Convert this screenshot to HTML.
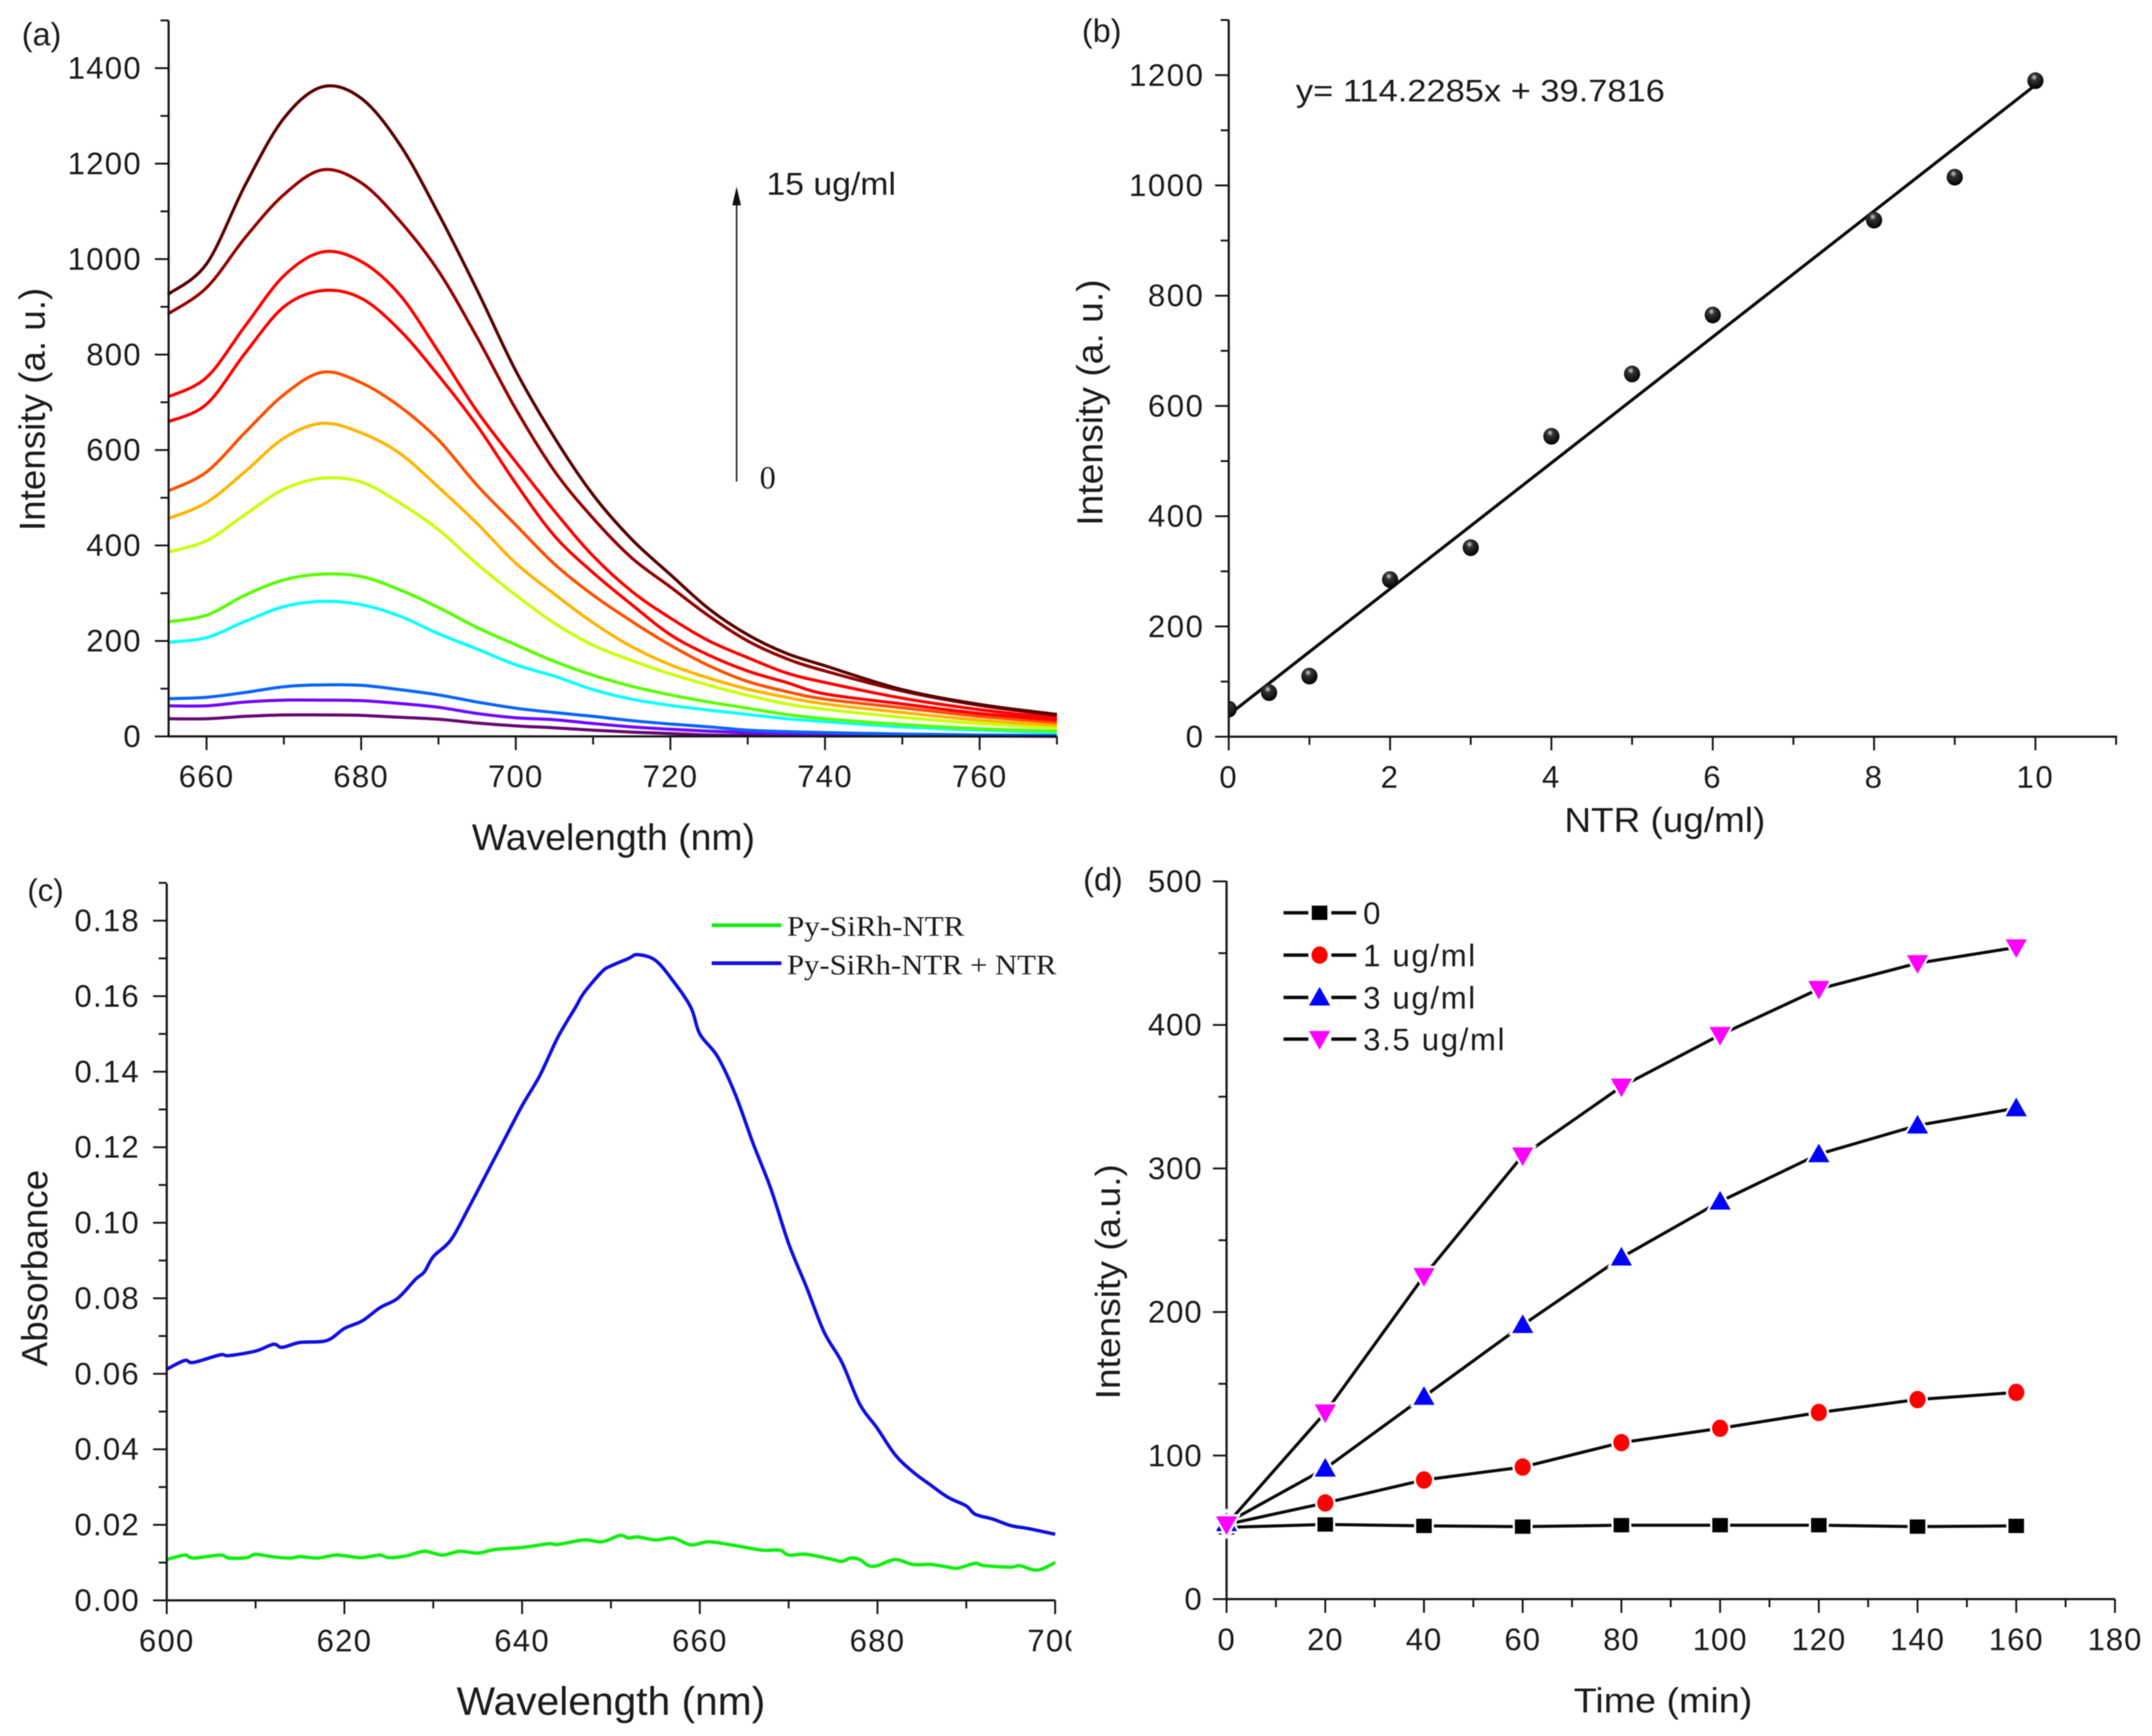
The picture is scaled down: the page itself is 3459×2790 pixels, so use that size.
<!DOCTYPE html>
<html lang="en">
<head>
<meta charset="utf-8">
<title>Py-SiRh-NTR fluorescence and absorbance charts</title>
<style>
html,body{margin:0;padding:0;background:#fff;}
svg{display:block;filter:blur(0.9px);}
text{font-family:"Liberation Sans",sans-serif;fill:#1c1c1c;}
.serif{font-family:"Liberation Serif",serif;}
</style>
</head>
<body>
<svg id="figure" xmlns="http://www.w3.org/2000/svg" width="3459" height="2790" viewBox="0 0 3459 2790">
  <defs>
    <radialGradient id="ball" cx="0.42" cy="0.3" r="0.7">
      <stop offset="0" stop-color="#d8d8d8"/>
      <stop offset="0.28" stop-color="#333"/>
      <stop offset="1" stop-color="#000"/>
    </radialGradient>
    <clipPath id="clip-b"><rect x="1975" y="20" width="1440" height="1170"/></clipPath>
    <clipPath id="clip-c-ticks"><rect x="0" y="1395" width="1722" height="1395"/></clipPath>
  </defs>
  <rect width="3459" height="2790" fill="#fff"/>

  <g id="panel-a">
    <text x="35" y="73" font-size="52">(a)</text>
    <text transform="translate(72,658) rotate(-90)" text-anchor="middle" font-size="58" textLength="391" lengthAdjust="spacingAndGlyphs">Intensity (a. u.)</text>
    <text x="986" y="1366" text-anchor="middle" font-size="59" textLength="455" lengthAdjust="spacingAndGlyphs">Wavelength (nm)</text>
    <line x1="1184" y1="774" x2="1184" y2="320" stroke="#222" stroke-width="2.5"/>
    <polygon points="1184,300 1177,330 1191,330" fill="#111"/>
    <text x="1232" y="313" font-size="51" textLength="208" lengthAdjust="spacingAndGlyphs">15 ug/ml</text>
    <text class="serif" x="1221" y="785" font-size="52">0</text>
  </g>

  <g id="panel-b">
    <text x="1739" y="67" font-size="52">(b)</text>
    <text transform="translate(1772,647) rotate(-90)" text-anchor="middle" font-size="58" textLength="396" lengthAdjust="spacingAndGlyphs">Intensity (a. u.)</text>
    <text x="2676" y="1337" text-anchor="middle" font-size="56" textLength="323" lengthAdjust="spacingAndGlyphs">NTR (ug/ml)</text>
    <text x="2083" y="163" font-size="50" textLength="593" lengthAdjust="spacingAndGlyphs">y= 114.2285x + 39.7816</text>
  </g>

  <g id="panel-c">
    <text x="44" y="1448" font-size="50">(c)</text>
    <text transform="translate(76,2038) rotate(-90)" text-anchor="middle" font-size="58" textLength="316" lengthAdjust="spacingAndGlyphs">Absorbance</text>
    <text x="982" y="2756" text-anchor="middle" font-size="64" textLength="496" lengthAdjust="spacingAndGlyphs">Wavelength (nm)</text>
    <line x1="1144" y1="1487" x2="1256" y2="1487" stroke="#12ee12" stroke-width="6"/>
    <line x1="1144" y1="1548" x2="1256" y2="1548" stroke="#1010e0" stroke-width="6"/>
    <text class="serif" x="1265" y="1504" font-size="46" textLength="285" lengthAdjust="spacingAndGlyphs">Py-SiRh-NTR</text>
    <text class="serif" x="1265" y="1566" font-size="46" textLength="433" lengthAdjust="spacingAndGlyphs">Py-SiRh-NTR + NTR</text>
  </g>

  <g id="panel-d">
    <text x="1741" y="1431" font-size="52">(d)</text>
    <text transform="translate(1800,2060) rotate(-90)" text-anchor="middle" font-size="56" textLength="378" lengthAdjust="spacingAndGlyphs">Intensity (a.u.)</text>
    <text x="2673" y="2752" text-anchor="middle" font-size="56" textLength="287" lengthAdjust="spacingAndGlyphs">Time (min)</text>
  </g>
</svg>

<script>
// ---------- Panel (a) data ----------
const aWavelengths = [655,660,665,670,675,680,685,690,695,700,705,710,715,720,725,730,735,740,750,760,770];
const aConc01 = [37,37,42,45,45,44,40,36,28,22,18,13,9,6,3,2,2,1,1,1,0];
const aConc02 = [64,64,72,76,76,75,69,61,48,39,35,27,20,15,11,8,6,4,2,1,1];
const aConc03 = [79,82,92,104,108,107,98,87,72,59,50,42,33,26,20,13,10,8,5,3,2];
const aConc04 = [197,207,241,272,283,276,252,215,183,150,126,98,78,65,55,46,37,31,20,13,8];
const aConc05 = [240,254,296,328,340,335,307,270,228,192,157,128,105,87,72,59,46,37,25,16,11];
const aConc06 = [386,410,465,518,541,533,489,433,361,296,237,191,159,131,107,86,68,57,40,27,18];
const aConc07 = [456,490,555,625,656,636,593,522,446,363,298,238,188,150,122,99,82,68,50,34,23];
const aConc08 = [514,554,637,716,763,741,691,621,526,443,361,296,241,191,148,115,94,78,60,42,29];
const aConc09 = [659,696,803,900,934,918,851,756,651,530,420,343,276,213,170,137,113,89,68,48,34];
const aConc10 = [711,752,860,965,1015,995,925,806,681,575,472,378,304,248,200,165,133,113,80,56,38];
const aConc11 = [885,940,1045,1135,1187,1160,1080,975,836,686,556,457,374,313,252,200,163,137,95,65,44];
const aConc12 = [926,990,1155,1295,1361,1337,1240,1095,935,766,626,506,413,339,267,213,174,148,98,67,46];
const aSeries = [aConc01,aConc02,aConc03,aConc04,aConc05,aConc06,aConc07,aConc08,aConc09,aConc10,aConc11,aConc12];
const aColors = ["#650a70","#7008ff","#0a64ff","#0affff","#58ff00","#c8ff0a","#ffb400","#ff5000","#ff0000","#ff0000","#960000","#5a0000"];
const aXTicks = [660,680,700,720,740,760];
const aXMinor = [670,690,710,730,750,770];
const aYTicks = [0,200,400,600,800,1000,1200,1400];
const aYMinor = [100,300,500,700,900,1100,1300,1500];

// ---------- Panel (b) data ----------
const bConcentration = [0,0.5,1,2,3,4,5,6,8,9,10];
const bIntensity = [50,80,110,285,343,545,658,765,937,1015,1190];
const bFitX = [0,10];
const bFitY = [39.78,1182.07];
const bXTicks = [0,2,4,6,8,10];
const bXMinor = [1,3,5,7,9,11];
const bYTicks = [0,200,400,600,800,1000,1200];
const bYMinor = [100,300,500,700,900,1100,1300];

// ---------- Panel (c) data ----------
const cBlueWl = [600,602,603,606,607,610,612,613,615,618,620,622,624,626,628,629,630,632,634,636,638,640,642,644,646,647,649,650,652,653,655,657,659,660,662,664,666,668,670,672,674,676,678,680,682,684,686,688,690,691,693,695,697,700];
const cBlueAbs = [.0612,.0635,.063,.065,.0648,.066,.0678,.067,.0683,.0688,.072,.074,.0775,.080,.085,.087,.091,.0955,.104,.113,.122,.131,.139,.149,.157,.161,.1665,.168,.170,.171,.1695,.164,.157,.150,.144,.134,.121,.109,.0945,.083,.071,.063,.052,.0455,.0385,.034,.0305,.0272,.025,.0228,.0215,.0198,.019,.0175];
const cGreenWl = [600,602,603,606,607,609,610,612,614,615,617,619,621,622,624,625,627,629,631,633,635,637,640,643,644,647,649,651,652,653,655,657,659,661,664,667,669,670,672,675,676,677,678,679,680,682,684,686,688,689,691,692,695,696,698,700];
const cGreenAbs = [.0108,.012,.0112,.012,.0112,.0113,.0122,.0115,.0112,.0116,.0112,.012,.0115,.0113,.012,.0113,.0118,.013,.012,.013,.0125,.0135,.014,.015,.0148,.016,.0155,.0172,.0165,.0168,.016,.0165,.0147,.0155,.0145,.0133,.0133,.012,.0122,.0108,.0103,.0112,.0108,.0092,.0092,.0108,.0095,.0095,.0088,.0085,.0098,.0092,.0088,.0092,.008,.01];
const cXTicks = [600,620,640,660,680,700];
const cXMinor = [610,630,650,670,690];
const cYTicks = [0,0.02,0.04,0.06,0.08,0.10,0.12,0.14,0.16,0.18];
const cYMinor = [0.01,0.03,0.05,0.07,0.09,0.11,0.13,0.15,0.17,0.19];

// ---------- Panel (d) data ----------
const dTimes = [0,20,40,60,80,100,120,140,160];
const dConc0 = [50,52,51,50.5,51.5,51.5,51.5,50.5,51];
const dConc1 = [52,67,83,92,109,119,130,139,144];
const dConc3 = [53,91,141,191,238,277,310,330,342];
const dConc35 = [52,130,225,309,357,393,425,443,454];
const dLabels = ["0","1 ug/ml","3 ug/ml","3.5 ug/ml"];
const dXTicks = [0,20,40,60,80,100,120,140,160,180];
const dXMinor = [10,30,50,70,90,110,130,150,170];
const dYTicks = [0,100,200,300,400,500];
const dYMinor = [50,150,250,350,450];

// ---------- Helpers ----------
const NS = "http://www.w3.org/2000/svg";
function mk(tag, attrs, parent) {
  const el = document.createElementNS(NS, tag);
  for (const k in attrs) el.setAttribute(k, attrs[k]);
  parent.appendChild(el);
  return el;
}
function linePath(pts) {
  return pts.map((p, i) => (i ? "L" : "M") + p[0].toFixed(1) + " " + p[1].toFixed(1)).join(" ");
}
function smoothPath(pts) {
  let d = "M" + pts[0][0].toFixed(1) + " " + pts[0][1].toFixed(1);
  for (let i = 0; i < pts.length - 1; i++) {
    const p0 = pts[Math.max(i - 1, 0)], p1 = pts[i], p2 = pts[i + 1], p3 = pts[Math.min(i + 2, pts.length - 1)];
    const c1x = p1[0] + (p2[0] - p0[0]) / 6, c1y = p1[1] + (p2[1] - p0[1]) / 6;
    const c2x = p2[0] - (p3[0] - p1[0]) / 6, c2y = p2[1] - (p3[1] - p1[1]) / 6;
    d += " C" + c1x.toFixed(1) + " " + c1y.toFixed(1) + " " + c2x.toFixed(1) + " " + c2y.toFixed(1) + " " + p2[0].toFixed(1) + " " + p2[1].toFixed(1);
  }
  return d;
}
function drawAxes(parent, cfg) {
  const ink = "#151515";
  const yAxis = mk("line", {x1: cfg.left, y1: cfg.bottom + 1.5, x2: cfg.left, y2: cfg.top, stroke: ink, "stroke-width": 3.5}, parent);
  
  
  const xAxis = mk("line", {x1: cfg.left, y1: cfg.bottom, x2: cfg.right, y2: cfg.bottom, stroke: ink, "stroke-width": 3.5}, parent);
  
  
  cfg.xTicks.forEach(v => {
    const x = cfg.sx(v);
    const t = mk("line", {x1: x, y1: cfg.bottom, x2: x, y2: cfg.bottom + 22, stroke: ink, "stroke-width": 3}, parent);
    
    
    const l = mk("text", {x: x, y: cfg.xLabelY, "text-anchor": "middle", "font-size": cfg.fs, "letter-spacing": cfg.ls}, cfg.xClip || parent);
    l.textContent = v;
    
    
  });
  cfg.xMinor.forEach(v => {
    const x = cfg.sx(v);
    const t = mk("line", {x1: x, y1: cfg.bottom, x2: x, y2: cfg.bottom + 13, stroke: ink, "stroke-width": 3}, parent);
    
    
  });
  cfg.yTicks.forEach(v => {
    const y = cfg.sy(v);
    const t = mk("line", {x1: cfg.left - 22, y1: y, x2: cfg.left, y2: y, stroke: ink, "stroke-width": 3}, parent);
    
    
    const l = mk("text", {x: cfg.yLabelX, y: y + 17, "text-anchor": "end", "font-size": cfg.fs, "letter-spacing": cfg.ls}, parent);
    l.textContent = cfg.yFmt ? cfg.yFmt(v) : v;
    
    
  });
  cfg.yMinor.forEach(v => {
    const y = cfg.sy(v);
    const t = mk("line", {x1: cfg.left - 13, y1: y, x2: cfg.left, y2: y, stroke: ink, "stroke-width": 3}, parent);
    
    
  });
}
function drawMarker(parent, kind, x, y) {
  const halo = {stroke: "#fff", "stroke-width": 7, "paint-order": "stroke"};
  let el;
  if (kind === 0) {
    el = mk("rect", Object.assign({x: x - 12.5, y: y - 11.5, width: 25, height: 23, fill: "#000"}, halo), parent);
  } else if (kind === 1) {
    el = mk("ellipse", Object.assign({cx: x, cy: y, rx: 13, ry: 14, fill: "#ff0000"}, halo), parent);
  } else if (kind === 2) {
    el = mk("polygon", Object.assign({points: x + "," + (y - 17) + " " + (x - 17) + "," + (y + 13) + " " + (x + 17) + "," + (y + 13), fill: "#0000ff"}, halo), parent);
  } else {
    el = mk("polygon", Object.assign({points: x + "," + (y + 17) + " " + (x - 17) + "," + (y - 13) + " " + (x + 17) + "," + (y - 13), fill: "#ff00ff"}, halo), parent);
  }
  return el;
}

// ---------- Panel (a) ----------
const aX = v => 332 + (v - 660) * 12.426;
const aY = v => 1183.5 - v * 0.7671;
(function () {
  const g = document.getElementById("panel-a");
  aSeries.forEach((vals, i) => {
    const pts = vals.map((v, j) => [aX(aWavelengths[j]), aY(v)]);
    const p = mk("path", {d: smoothPath(pts), fill: "none", stroke: aColors[i], "stroke-width": 5}, g);
    
    
  });
  drawAxes(g, {left: 271, right: 1699, top: 33, bottom: 1183.5, sx: aX, sy: aY, xTicks: aXTicks, xMinor: aXMinor, yTicks: aYTicks, yMinor: aYMinor, xLabelY: 1265, yLabelX: 228, fs: 50, ls: 2});
})();

// ---------- Panel (b) ----------
const bX = v => 1975 + v * 129.66;
const bY = v => 1184 - v * 0.886;
(function () {
  const g = document.getElementById("panel-b");
  const fit = mk("path", {d: linePath(bFitX.map((x, i) => [bX(x), bY(bFitY[i])])), fill: "none", stroke: "#0a0a0a", "stroke-width": 5}, g);
  
  
  const pts = mk("g", {"clip-path": "url(#clip-b)"}, g);
  
  
  bConcentration.forEach((c, i) => {
    const dot = mk("ellipse", {cx: bX(c), cy: bY(bIntensity[i]), rx: 13, ry: 13.5, fill: "url(#ball)"}, pts);
    
    
  });
  drawAxes(g, {left: 1975, right: 3403, top: 32, bottom: 1184, sx: bX, sy: bY, xTicks: bXTicks, xMinor: bXMinor, yTicks: bYTicks, yMinor: bYMinor, xLabelY: 1266, yLabelX: 1936, fs: 50, ls: 2.5});
})();

// ---------- Panel (c) ----------
const cX = v => 268 + (v - 600) * 14.28;
const cY = v => 2572 - v * 6069;
(function () {
  const g = document.getElementById("panel-c");
  const green = mk("path", {d: smoothPath(cGreenWl.map((x, i) => [cX(x), cY(cGreenAbs[i])])), fill: "none", stroke: "#12ee12", "stroke-width": 5.5, "stroke-linejoin": "round"}, g);
  
  
  const blue = mk("path", {d: smoothPath(cBlueWl.map((x, i) => [cX(x), cY(cBlueAbs[i])])), fill: "none", stroke: "#1010e0", "stroke-width": 5.5, "stroke-linejoin": "round"}, g);
  
  
  const clip = mk("g", {"clip-path": "url(#clip-c-ticks)"}, g);
  
  
  drawAxes(g, {left: 268, right: 1696, top: 1420, bottom: 2572, sx: cX, sy: cY, xTicks: cXTicks, xMinor: cXMinor, yTicks: cYTicks, yMinor: cYMinor, xLabelY: 2654, yLabelX: 225, fs: 50, ls: 2, xClip: clip, yFmt: v => v.toFixed(2)});
})();

// ---------- Panel (d) ----------
const dX = v => 1971.5 + v * 7.933;
const dY = v => 2570 - v * 2.307;
(function () {
  const g = document.getElementById("panel-d");
  const series = [dConc0, dConc1, dConc3, dConc35];
  series.forEach((vals, k) => {
    const p = mk("path", {d: linePath(vals.map((v, i) => [dX(dTimes[i]), dY(v)])), fill: "none", stroke: "#0a0a0a", "stroke-width": 5}, g);
    
    
  });
  drawAxes(g, {left: 1971.5, right: 3399.5, top: 1416, bottom: 2570, sx: dX, sy: dY, xTicks: dXTicks, xMinor: dXMinor, yTicks: dYTicks, yMinor: dYMinor, xLabelY: 2652, yLabelX: 1933, fs: 50, ls: 1.5});
  series.forEach((vals, k) => {
    vals.forEach((v, i) => {
      const m = drawMarker(g, k, dX(dTimes[i]), dY(v));
      
      
    });
  });
  const legendYs = [1467, 1535, 1603, 1670];
  dLabels.forEach((label, k) => {
    const l1 = mk("line", {x1: 2063, y1: legendYs[k], x2: 2103, y2: legendYs[k], stroke: "#0a0a0a", "stroke-width": 5.5}, g);
    
    
    const l2 = mk("line", {x1: 2140, y1: legendYs[k], x2: 2180, y2: legendYs[k], stroke: "#0a0a0a", "stroke-width": 5.5}, g);
    
    
    const m = drawMarker(g, k, 2121, legendYs[k]);
    
    
    const t = mk("text", {x: 2191, y: legendYs[k] + 18, "font-size": 50, "letter-spacing": 2.7}, g);
    t.textContent = label;
    
    
  });
})();
</script>
</body>
</html>
